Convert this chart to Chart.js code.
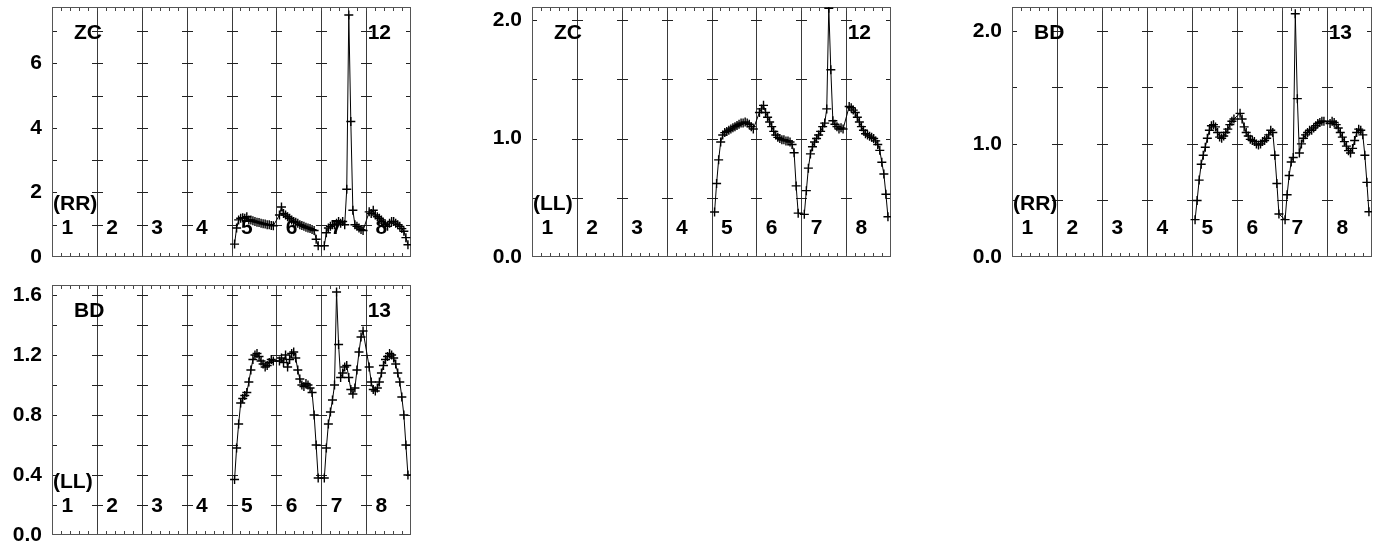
<!DOCTYPE html>
<html>
<head>
<meta charset="utf-8">
<script src="https://cdn.jsdelivr.net/npm/chart.js@4/dist/chart.umd.min.js"></script>
<style>
  body { margin: 0; background: #fff; width: 1382px; height: 550px; overflow: hidden; position: relative; }
  canvas { position: absolute; }
</style>
</head>
<body>
<canvas id="c1"></canvas>
<canvas id="c2"></canvas>
<canvas id="c3"></canvas>
<canvas id="c4"></canvas>
<script>
// IF numbers along the x axis, and the IFs that hold data
const ifLabels = ['1', '2', '3', '4', '5', '6', '7', '8'];
const dataIFs = [5, 6, 7, 8];
const nChan = 20;

// amplitude per channel, one row per IF (5..8)
const zcRR = [
    [0.40, 0.90, 1.15, 1.20, 1.22, 1.20, 1.25, 1.15, 1.15, 1.12, 1.10, 1.08, 1.07, 1.05, 1.03, 1.02, 1.00, 1.00, 0.98, 0.97],
    [1.30, 1.55, 1.35, 1.30, 1.25, 1.20, 1.15, 1.10, 1.08, 1.05, 1.00, 0.98, 0.95, 0.92, 0.90, 0.88, 0.85, 0.82, 0.55, 0.35],
    [0.35, 0.75, 0.90, 0.95, 1.00, 1.00, 1.05, 1.10, 1.05, 1.10, 1.00, 2.10, 7.50, 4.20, 1.45, 1.00, 0.95, 0.90, 0.85, 0.82],
    [1.40, 1.35, 1.45, 1.30, 1.25, 1.20, 1.15, 1.05, 1.00, 0.95, 1.05, 1.10, 1.10, 1.05, 1.00, 0.95, 0.88, 0.80, 0.60, 0.38]
];
const zcLL = [
    [0.38, 0.62, 0.82, 0.97, 1.03, 1.05, 1.06, 1.07, 1.08, 1.09, 1.10, 1.11, 1.12, 1.13, 1.13, 1.14, 1.13, 1.12, 1.10, 1.08],
    [1.22, 1.25, 1.28, 1.22, 1.18, 1.14, 1.10, 1.06, 1.03, 1.01, 1.00, 0.99, 0.99, 0.98, 0.98, 0.97, 0.95, 0.88, 0.60, 0.37],
    [0.36, 0.56, 0.75, 0.87, 0.93, 0.97, 1.00, 1.03, 1.06, 1.10, 1.13, 1.25, 2.10, 1.58, 1.15, 1.12, 1.10, 1.08, 1.09, 1.08],
    [1.27, 1.26, 1.24, 1.22, 1.18, 1.14, 1.10, 1.07, 1.04, 1.03, 1.02, 1.01, 1.00, 0.98, 0.95, 0.90, 0.80, 0.70, 0.53, 0.34]
];
const bdRR = [
    [0.33, 0.50, 0.68, 0.82, 0.90, 0.97, 1.05, 1.12, 1.16, 1.17, 1.15, 1.10, 1.06, 1.05, 1.07, 1.10, 1.13, 1.17, 1.20, 1.22],
    [1.27, 1.22, 1.15, 1.10, 1.07, 1.04, 1.03, 1.02, 1.00, 0.99, 1.00, 1.02, 1.03, 1.05, 1.08, 1.12, 1.10, 0.90, 0.65, 0.38],
    [0.33, 0.55, 0.72, 0.84, 0.88, 2.15, 1.40, 0.92, 1.00, 1.05, 1.08, 1.10, 1.12, 1.12, 1.14, 1.16, 1.18, 1.19, 1.20, 1.20],
    [1.18, 1.20, 1.19, 1.17, 1.14, 1.10, 1.06, 1.02, 0.98, 0.94, 0.92, 0.96, 1.03, 1.10, 1.13, 1.12, 1.08, 0.90, 0.66, 0.40]
];
const bdLL = [
    [0.37, 0.58, 0.74, 0.88, 0.91, 0.93, 0.95, 1.02, 1.10, 1.17, 1.20, 1.21, 1.19, 1.16, 1.14, 1.12, 1.13, 1.15, 1.17, 1.16],
    [1.16, 1.18, 1.15, 1.20, 1.12, 1.17, 1.21, 1.22, 1.18, 1.10, 1.04, 1.00, 0.99, 1.01, 1.00, 0.98, 0.95, 0.80, 0.60, 0.38],
    [0.38, 0.58, 0.74, 0.82, 0.90, 1.00, 1.62, 1.27, 1.05, 1.08, 1.12, 1.13, 1.05, 0.97, 0.94, 0.98, 1.10, 1.22, 1.32, 1.36],
    [1.12, 1.02, 0.97, 0.96, 0.98, 1.02, 1.08, 1.13, 1.17, 1.19, 1.21, 1.20, 1.18, 1.14, 1.08, 1.02, 0.92, 0.80, 0.60, 0.40]
];

// y tick labels per panel
const yTicks1 = [0, 2, 4, 6];
const yTicks2 = [0, 1, 2];
const yTicks3 = [0, 1, 2];
const yTicks4 = [0, 0.4, 0.8, 1.2, 1.6];

const panels = [
    { id: 'c1', box: [52, 7, 411, 257], data: zcRR, ymax: 7.75, ticks: yTicks1, dec: 0, minor: 1, src: 'ZC', num: '12', pol: '(RR)' },
    { id: 'c2', box: [532, 7, 891, 257], data: zcLL, ymax: 2.11, ticks: yTicks2, dec: 1, minor: 0.5, src: 'ZC', num: '12', pol: '(LL)' },
    { id: 'c3', box: [1012, 7, 1372, 257], data: bdRR, ymax: 2.21, ticks: yTicks3, dec: 1, minor: 0.5, src: 'BD', num: '13', pol: '(RR)' },
    { id: 'c4', box: [52, 285, 411, 535], data: bdLL, ymax: 1.667, ticks: yTicks4, dec: 1, minor: 0.2, src: 'BD', num: '13', pol: '(LL)' }
];

const AXW = 52, PADT = 7, PADR = 6, PADB = 15;
const FONT = "'Liberation Sans', Arial, sans-serif";

function toPoints(rows) {
    const pts = [];
    rows.forEach((row, k) => {
        row.forEach((v, c) => {
            pts.push({ x: dataIFs[k] - 1 + (c + 1.5) / (nChan + 2), y: v });
        });
    });
    return pts;
}

function line(ctx, x1, y1, x2, y2) {
    ctx.beginPath();
    ctx.moveTo(x1, y1);
    ctx.lineTo(x2, y2);
    ctx.stroke();
}

const framePlugin = {
    id: 'frame',
    beforeDatasetsDraw(chart, args, opts) {
        const ctx = chart.ctx;
        const { left, right, top, bottom } = chart.chartArea;
        const xs = chart.scales.x, ys = chart.scales.y;
        const p = opts.panel;
        ctx.save();
        ctx.lineWidth = 1;

        // IF boundaries
        ctx.strokeStyle = '#3a3a3a';
        for (let i = 1; i < ifLabels.length; i++) {
            const x = Math.round(xs.getPixelForValue(i)) + 0.5;
            line(ctx, x, top, x, bottom);
        }

        // y ticks on the edges and across each boundary
        ctx.strokeStyle = '#222';
        const nMinor = Math.floor(p.ymax / p.minor + 1e-6);
        for (let k = 1; k <= nMinor; k++) {
            const y = Math.round(ys.getPixelForValue(k * p.minor)) + 0.5;
            line(ctx, left, y, left + 5, y);
            line(ctx, right - 5, y, right, y);
            for (let i = 1; i < ifLabels.length; i++) {
                const x = Math.round(xs.getPixelForValue(i));
                line(ctx, x - 5, y, x + 6, y);
            }
        }

        // small x ticks along top and bottom
        ctx.strokeStyle = '#444';
        for (let k = 1; k < ifLabels.length * 5; k++) {
            const x = Math.round(xs.getPixelForValue(k / 5)) + 0.5;
            line(ctx, x, top, x, top + 4);
            line(ctx, x, bottom - 4, x, bottom);
        }

        // frame
        ctx.strokeStyle = '#555';
        ctx.strokeRect(left + 0.5, top + 0.5, right - left - 1, bottom - top - 1);

        // labels
        ctx.fillStyle = '#000';
        ctx.font = 'bold 21px ' + FONT;
        ctx.textBaseline = 'middle';
        ctx.textAlign = 'left';
        ctx.fillText(p.src, left + 22, top + 26);
        ctx.fillText(p.pol, left + 1, bottom - 53);
        ctx.textAlign = 'right';
        ctx.fillText(p.num, right - 20, top + 26);
        ctx.textAlign = 'center';
        ifLabels.forEach((lab, i) => {
            ctx.fillText(lab, xs.getPixelForValue(i + 0.34), bottom - 29);
        });
        ctx.restore();
    }
};

panels.forEach(p => {
    const [l, t, r, b] = p.box;
    const canvas = document.getElementById(p.id);
    canvas.width = (r - l) + AXW + PADR;
    canvas.height = (b - t) + PADT + PADB;
    canvas.style.left = (l - AXW) + 'px';
    canvas.style.top = (t - PADT) + 'px';

    new Chart(canvas, {
        type: 'line',
        data: {
            datasets: [{
                data: toPoints(p.data),
                borderColor: '#000',
                borderWidth: 1,
                pointStyle: 'cross',
                pointRadius: 4.5,
                pointBorderWidth: 1.4,
                pointBorderColor: '#000',
                tension: 0
            }]
        },
        options: {
            responsive: false,
            animation: false,
            events: [],
            layout: { padding: { top: PADT, right: PADR, bottom: PADB, left: 0 } },
            plugins: {
                legend: { display: false },
                tooltip: { enabled: false },
                frame: { panel: p }
            },
            scales: {
                x: { type: 'linear', min: 0, max: ifLabels.length, display: false },
                y: {
                    type: 'linear',
                    min: 0,
                    max: p.ymax,
                    grid: { display: false, drawTicks: false },
                    border: { display: false },
                    ticks: {
                        color: '#000',
                        padding: 10,
                        font: { family: FONT, size: 21, weight: 'bold' },
                        callback: v => v.toFixed(p.dec)
                    },
                    afterBuildTicks: scale => { scale.ticks = p.ticks.map(v => ({ value: v })); },
                    afterFit: scale => {
                        scale.width = AXW;
                        scale.paddingTop = 0;
                        scale.paddingBottom = 0;
                    }
                }
            }
        },
        plugins: [framePlugin]
    });
});
</script>
</body>
</html>
